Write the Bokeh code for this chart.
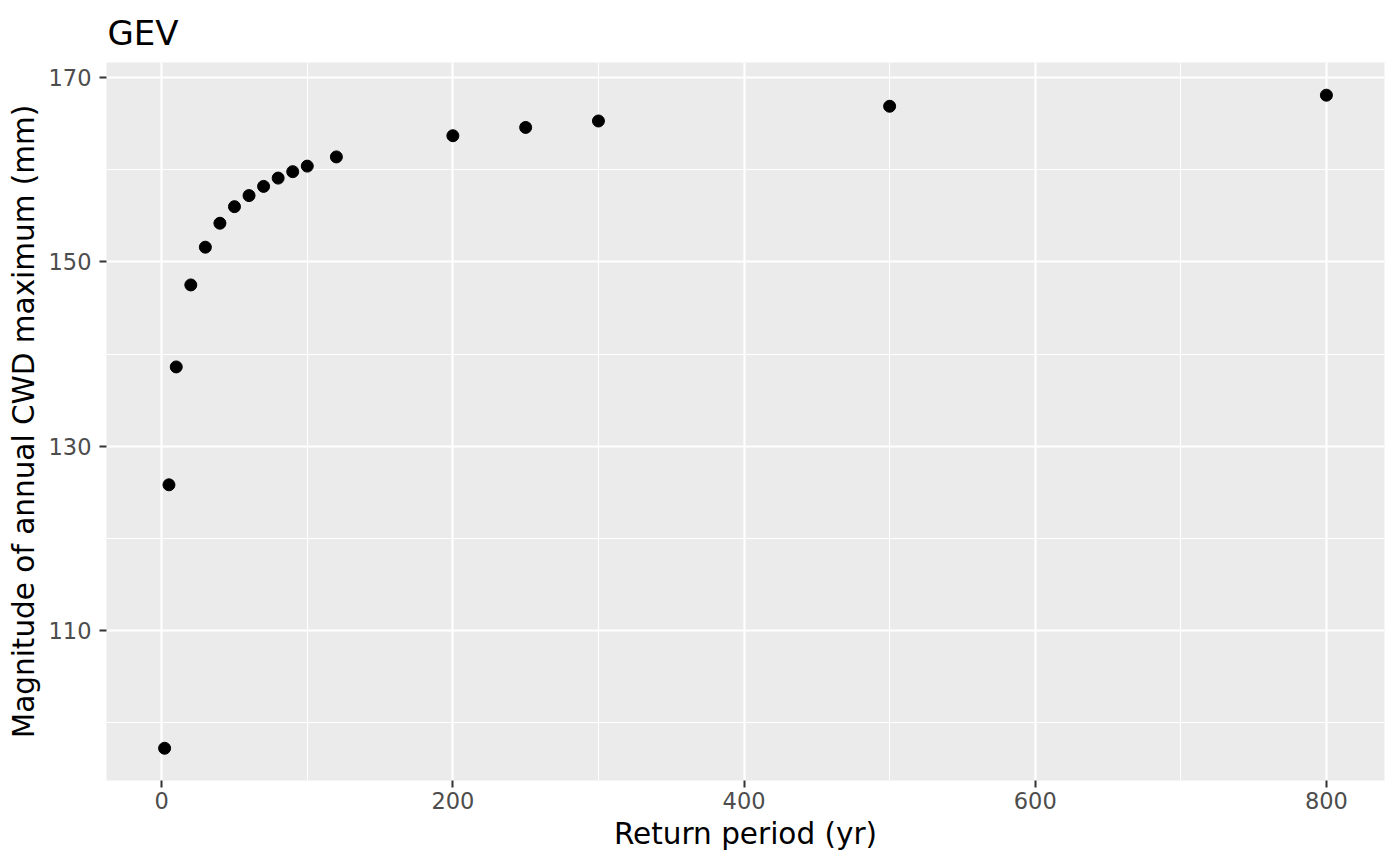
from bokeh.plotting import figure
from bokeh.models import FixedTicker, Range1d, ColumnDataSource
from bokeh.embed import file_html
from bokeh.resources import INLINE

return_period = [2, 5, 10, 20, 30, 40, 50, 60, 70, 80, 90, 100, 120, 200, 250, 300, 500, 800]
magnitude = [97.2, 125.8, 138.6, 147.5, 151.6, 154.2, 156.0, 157.2, 158.2, 159.1, 159.8, 160.4,
             161.4, 163.7, 164.6, 165.3, 166.9, 168.1]
x_ticks = [0, 200, 400, 600, 800]
x_minor = [100, 300, 500, 700]
y_ticks = [110, 130, 150, 170]
y_minor = [100, 120, 140, 160]

FONT = "DejaVu Sans"

p = figure(width=1392, height=858, output_backend="svg", toolbar_location=None,
           x_range=Range1d(-37.9, 839.9), y_range=Range1d(93.7, 171.65),
           min_border_left=106, min_border_right=8, min_border_top=61, min_border_bottom=78)

p.background_fill_color = "#EBEBEB"
p.border_fill_color = "white"
p.outline_line_color = None

p.title.text = "GEV"
p.title.text_font = FONT
p.title.text_font_size = "34px"
p.title.text_font_style = "normal"
p.title.text_color = "black"
p.title.align = "left"
p.title.offset = 1
p.title.standoff = 20

p.xaxis.ticker = FixedTicker(ticks=x_ticks, minor_ticks=x_minor)
p.yaxis.ticker = FixedTicker(ticks=y_ticks, minor_ticks=y_minor)
p.xgrid.ticker = p.xaxis.ticker
p.ygrid.ticker = p.yaxis.ticker

for g in (p.xgrid, p.ygrid):
    g.grid_line_color = "white"
    g.grid_line_width = 2.2
    g.minor_grid_line_color = "white"
    g.minor_grid_line_width = 1.1

for ax in (p.xaxis, p.yaxis):
    ax.axis_line_color = None
    ax.major_tick_line_color = "#333333"
    ax.major_tick_line_width = 2
    ax.major_tick_in = 0
    ax.major_tick_out = 7
    ax.minor_tick_line_color = None
    ax.major_label_text_font = FONT
    ax.major_label_text_font_size = "22.5px"
    ax.major_label_text_color = "#4D4D4D"
    ax.axis_label_text_font = FONT
    ax.axis_label_text_font_size = "29.5px"
    ax.axis_label_text_font_style = "normal"
    ax.axis_label_text_color = "black"

p.xaxis.axis_label = "Return period (yr)"
p.yaxis.axis_label = "Magnitude of annual CWD maximum (mm)"
p.xaxis.major_label_standoff = 4
p.yaxis.major_label_standoff = 8
p.xaxis.axis_label_standoff = 5
p.yaxis.axis_label_standoff = 5

src = ColumnDataSource(data=dict(x=return_period, y=magnitude))
p.scatter("x", "y", source=src, size=12, color="black")

open("out.html", "w").write(file_html(p, INLINE))
